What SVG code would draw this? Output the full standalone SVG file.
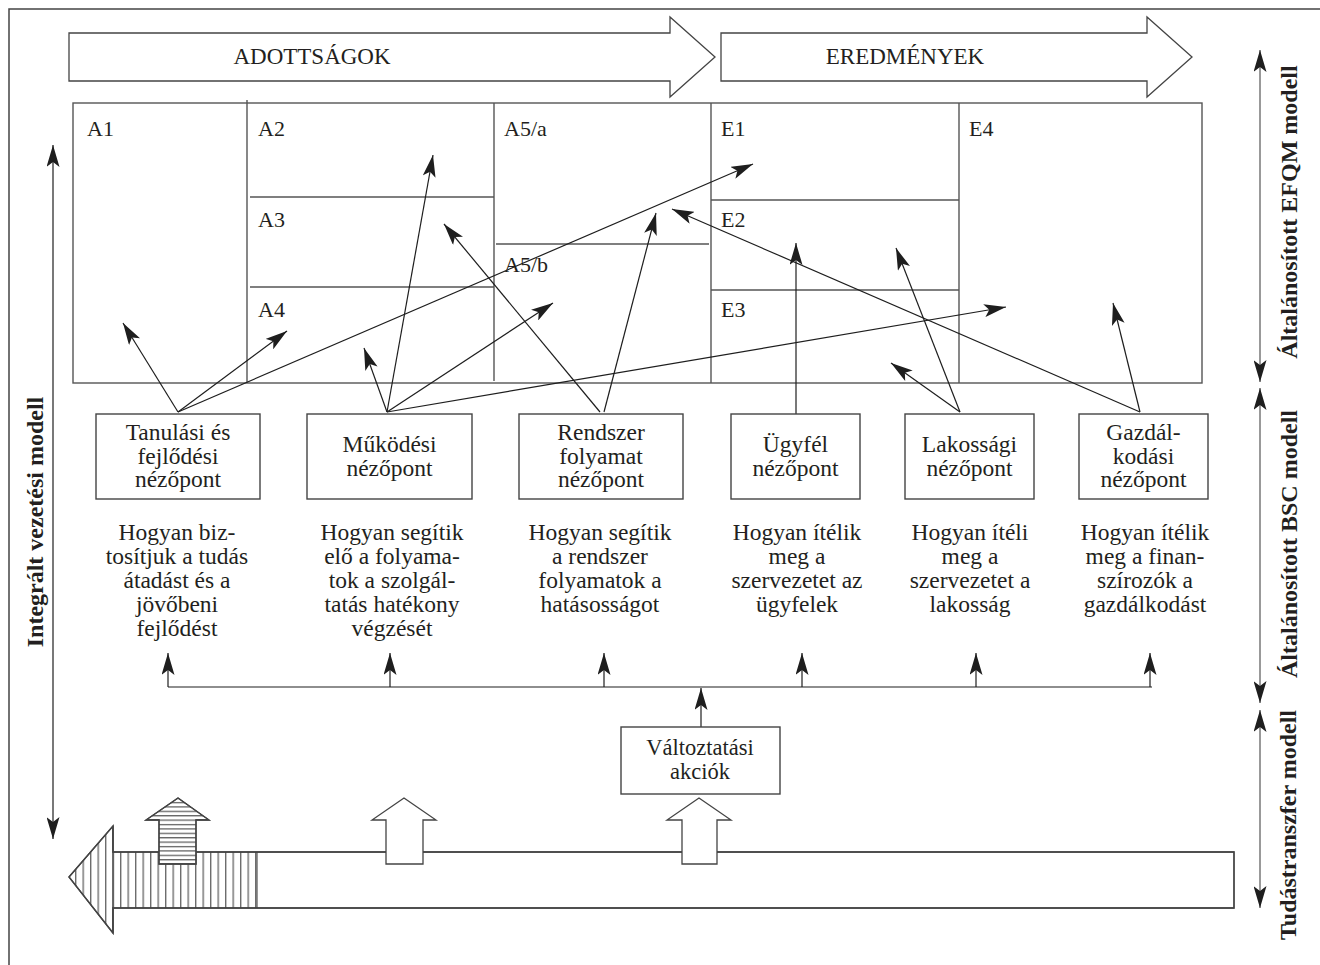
<svg xmlns="http://www.w3.org/2000/svg" width="1320" height="965" viewBox="0 0 1320 965">
<style>
.ln{stroke:#1e1e1e;stroke-width:1.2;fill:none}
.ar{stroke:#1e1e1e;stroke-width:1.2;fill:none;marker-end:url(#ah)}
.gr{stroke:#555;stroke-width:1.4;fill:none}
.bx{fill:#fff;stroke:#444;stroke-width:1.4}
.sh{fill:#fff;stroke:#444;stroke-width:1.3}
.t{font-family:"Liberation Serif","Times New Roman",serif;font-size:23.5px;fill:#231f20;text-anchor:middle}
.tl{font-family:"Liberation Serif","Times New Roman",serif;font-size:22px;fill:#231f20}
.tb{font-family:"Liberation Serif","Times New Roman",serif;font-size:24px;font-weight:bold;fill:#231f20;text-anchor:middle}
</style>
<defs>
<marker id="ah" viewBox="0 0 22 13" refX="22" refY="6.5" markerWidth="22" markerHeight="13" markerUnits="userSpaceOnUse" orient="auto">
<path d="M0,0 L22,6.5 L0,13 L5,6.5 Z" fill="#1e1e1e"/>
</marker>
<marker id="ahs" viewBox="0 0 22 13" refX="22" refY="6.5" markerWidth="22" markerHeight="13" markerUnits="userSpaceOnUse" orient="auto-start-reverse">
<path d="M0,0 L22,6.5 L0,13 L5,6.5 Z" fill="#1e1e1e"/>
</marker>
<pattern id="vh" patternUnits="userSpaceOnUse" x="112.5" y="0" width="7.5" height="20">
<path d="M0.75,0 V20" stroke="#333" stroke-width="1"/>
</pattern>
<pattern id="hh" patternUnits="userSpaceOnUse" x="0" y="797.5" width="20" height="4.4">
<path d="M0,0.7 H20" stroke="#333" stroke-width="1"/>
</pattern>
</defs>
<rect width="1320" height="965" fill="#fff"/>
<path d="M9,965 V9 H1320" stroke="#444" stroke-width="1.5" fill="none"/>

<g id="banner-adottsagok">
<polygon class="sh" points="69,33 670,33 670,17 715,57 670,97 670,81 69,81"/>
<text class="t" x="312" y="64" style="font-size:23px">ADOTTSÁGOK</text>
</g>
<g id="banner-eredmenyek">
<polygon class="sh" points="721,33 1147,33 1147,17 1192,57 1147,97 1147,81 721,81"/>
<text class="t" x="905" y="64" style="font-size:23px">EREDMÉNYEK</text>
</g>

<g id="efqm-grid">
<rect class="gr" x="73" y="103" width="1129" height="280" fill="#fff"/>
<line class="gr" x1="247" y1="100" x2="247" y2="383"/>
<line class="gr" x1="494" y1="103" x2="494" y2="381"/>
<line class="gr" x1="711" y1="103" x2="711" y2="383"/>
<line class="gr" x1="959" y1="103" x2="959" y2="383"/>
<line class="gr" x1="250" y1="197" x2="494" y2="197"/>
<line class="gr" x1="250" y1="287" x2="494" y2="287"/>
<line class="gr" x1="496" y1="244" x2="709" y2="244"/>
<line class="gr" x1="711" y1="200" x2="959" y2="200"/>
<line class="gr" x1="711" y1="290" x2="959" y2="290"/>
<text class="tl" x="87" y="136">A1</text>
<text class="tl" x="258" y="136">A2</text>
<text class="tl" x="258" y="227">A3</text>
<text class="tl" x="258" y="317">A4</text>
<text class="tl" x="504" y="136">A5/a</text>
<text class="tl" x="504" y="272">A5/b</text>
<text class="tl" x="721" y="136">E1</text>
<text class="tl" x="721" y="227">E2</text>
<text class="tl" x="721" y="317">E3</text>
<text class="tl" x="969" y="136">E4</text>
</g>

<g id="connectors">
<line class="ar" x1="178" y1="412" x2="123" y2="323"/>
<line class="ar" x1="178" y1="412" x2="287" y2="331"/>
<line class="ar" x1="178" y1="412" x2="753" y2="164"/>
<line class="ar" x1="387" y1="412" x2="433" y2="155"/>
<line class="ar" x1="387" y1="412" x2="364" y2="348"/>
<line class="ar" x1="387" y1="412" x2="553" y2="303"/>
<line class="ar" x1="387" y1="412" x2="1006" y2="307"/>
<line class="ar" x1="600" y1="412" x2="444" y2="224"/>
<line class="ar" x1="604" y1="412" x2="656" y2="213"/>
<line class="ar" x1="796" y1="414" x2="796" y2="243"/>
<line class="ar" x1="960" y1="412" x2="896" y2="248"/>
<line class="ar" x1="960" y1="412" x2="891" y2="363"/>
<line class="ar" x1="1140" y1="412" x2="1113" y2="303"/>
<line class="ar" x1="1140" y1="412" x2="672" y2="209"/>
<line class="ln" x1="168" y1="687" x2="1152" y2="687"/>
<line class="ar" x1="168" y1="687" x2="168" y2="653"/>
<line class="ar" x1="390" y1="687" x2="390" y2="653"/>
<line class="ar" x1="604" y1="687" x2="604" y2="653"/>
<line class="ar" x1="802" y1="687" x2="802" y2="653"/>
<line class="ar" x1="976" y1="687" x2="976" y2="653"/>
<line class="ar" x1="1150" y1="687" x2="1150" y2="653"/>
<line class="ar" x1="701" y1="727" x2="701" y2="688"/>
<line class="ln" x1="53" y1="145" x2="53" y2="839" style="marker-start:url(#ahs);marker-end:url(#ahs)"/>
<line class="ln" x1="1260" y1="50" x2="1260" y2="382" style="stroke:#555;marker-start:url(#ahs);marker-end:url(#ahs)"/>
<line class="ln" x1="1260" y1="388" x2="1260" y2="703" style="stroke:#555;marker-start:url(#ahs);marker-end:url(#ahs)"/>
<line class="ln" x1="1260" y1="710" x2="1260" y2="908" style="stroke:#555;marker-start:url(#ahs);marker-end:url(#ahs)"/>
</g>

<g id="bsc-tanulasi">
<rect class="bx" x="96" y="414" width="164" height="85"/>
<text class="t" x="178" y="440">Tanulási és</text>
<text class="t" x="178" y="463.5">fejlődési</text>
<text class="t" x="178" y="487">nézőpont</text>
<text class="t" x="177" y="540">Hogyan biz-</text>
<text class="t" x="177" y="564">tosítjuk a tudás</text>
<text class="t" x="177" y="588">átadást és a</text>
<text class="t" x="177" y="612">jövőbeni</text>
<text class="t" x="177" y="636">fejlődést</text>
</g>
<g id="bsc-mukodesi">
<rect class="bx" x="307" y="414" width="165" height="85"/>
<text class="t" x="389.5" y="452">Működési</text>
<text class="t" x="389.5" y="476">nézőpont</text>
<text class="t" x="392" y="540">Hogyan segítik</text>
<text class="t" x="392" y="564">elő a folyama-</text>
<text class="t" x="392" y="588">tok a szolgál-</text>
<text class="t" x="392" y="612">tatás hatékony</text>
<text class="t" x="392" y="636">végzését</text>
</g>
<g id="bsc-rendszer">
<rect class="bx" x="519" y="414" width="164" height="85"/>
<text class="t" x="601" y="440">Rendszer</text>
<text class="t" x="601" y="463.5">folyamat</text>
<text class="t" x="601" y="487">nézőpont</text>
<text class="t" x="600" y="540">Hogyan segítik</text>
<text class="t" x="600" y="564">a rendszer</text>
<text class="t" x="600" y="588">folyamatok a</text>
<text class="t" x="600" y="612">hatásosságot</text>
</g>
<g id="bsc-ugyfel">
<rect class="bx" x="731" y="414" width="129" height="85"/>
<text class="t" x="795.5" y="452">Ügyfél</text>
<text class="t" x="795.5" y="476">nézőpont</text>
<text class="t" x="797" y="540">Hogyan ítélik</text>
<text class="t" x="797" y="564">meg a</text>
<text class="t" x="797" y="588">szervezetet az</text>
<text class="t" x="797" y="612">ügyfelek</text>
</g>
<g id="bsc-lakossagi">
<rect class="bx" x="905" y="414" width="129" height="85"/>
<text class="t" x="969.5" y="452">Lakossági</text>
<text class="t" x="969.5" y="476">nézőpont</text>
<text class="t" x="970" y="540">Hogyan ítéli</text>
<text class="t" x="970" y="564">meg a</text>
<text class="t" x="970" y="588">szervezetet a</text>
<text class="t" x="970" y="612">lakosság</text>
</g>
<g id="bsc-gazdalkodasi">
<rect class="bx" x="1079" y="414" width="129" height="85"/>
<text class="t" x="1143.5" y="440">Gazdál-</text>
<text class="t" x="1143.5" y="463.5">kodási</text>
<text class="t" x="1143.5" y="487">nézőpont</text>
<text class="t" x="1145" y="540">Hogyan ítélik</text>
<text class="t" x="1145" y="564">meg a finan-</text>
<text class="t" x="1145" y="588">szírozók a</text>
<text class="t" x="1145" y="612">gazdálkodást</text>
</g>

<g id="valtoztatasi">
<rect class="bx" x="621" y="727" width="159" height="67"/>
<text class="t" x="700" y="755" style="font-size:22.5px">Változtatási</text>
<text class="t" x="700" y="779" style="font-size:22.5px">akciók</text>
</g>

<g id="knowledge-bar">
<polygon class="sh" points="69,877 113,826 113,852 1234,852 1234,908 113,908 113,933"/>
<polygon points="69,877 113,826 113,852 257,852 257,908 113,908 113,933" fill="url(#vh)"/>
<line x1="257" y1="852" x2="257" y2="908" stroke="#333" stroke-width="1"/>
<polygon points="69,877 113,826 113,852 1234,852 1234,908 113,908 113,933" fill="none" stroke="#444" stroke-width="1.3"/>
<line x1="113" y1="826" x2="113" y2="933" stroke="#444" stroke-width="1.3"/>
</g>
<g id="up-arrow-hatched">
<polygon class="sh" points="178,798 209,820 196,820 196,864 159,864 159,820 146,820"/>
<polygon points="178,798 209,820 196,820 196,864 159,864 159,820 146,820" fill="url(#hh)"/>
<polygon points="178,798 209,820 196,820 196,864 159,864 159,820 146,820" fill="none" stroke="#444" stroke-width="1.3"/>
</g>
<g id="up-arrow-2">
<polygon class="sh" points="404,798 436,820 423,820 423,864 386,864 386,820 372,820"/>
</g>
<g id="up-arrow-3">
<polygon class="sh" points="699,798 731,820 717,820 717,864 682,864 682,820 667,820"/>
</g>

<g id="side-labels">
<text class="tb" transform="translate(43,522) rotate(-90)">Integrált vezetési modell</text>
<text class="tb" transform="translate(1297,212) rotate(-90)">Általánosított EFQM modell</text>
<text class="tb" transform="translate(1297,544) rotate(-90)">Általánosított BSC modell</text>
<text class="tb" transform="translate(1296,825) rotate(-90)">Tudástranszfer modell</text>
</g>
</svg>
